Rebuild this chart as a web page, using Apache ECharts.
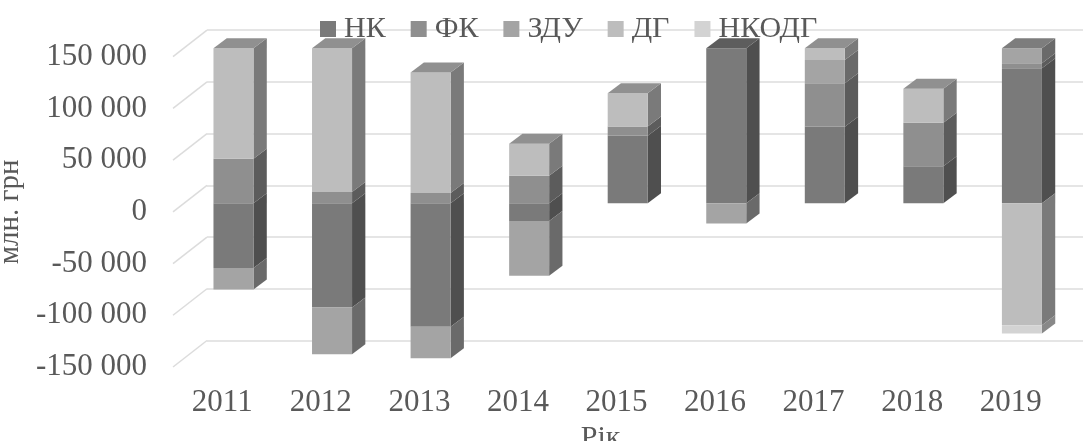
<!DOCTYPE html>
<html>
<head>
<meta charset="utf-8">
<title>chart</title>
<style>
  html, body { margin: 0; padding: 0; background: #fff; }
  #main { width: 1083px; height: 441px; }
</style>
</head>
<body>
<div id="main"></div>
<script src="https://cdn.jsdelivr.net/npm/echarts@6/dist/echarts.min.js"></script>
<script>
const years = ['2011', '2012', '2013', '2014', '2015', '2016', '2017', '2018', '2019'];
const nk = [-62600, -100600, -119400, -17000, 65400, 150000, 74000, 35800, 130600];
const fk = [43000, 11000, 10000, 26700, 9000, 0, 42000, 42200, 4800];
const zdu = [-20600, -45200, -30300, -53000, 0, -19400, 22600, 0, 14500];
const dg = [107000, 139000, 116400, 31000, 32000, 0, 11400, 32700, -117800];
const nkodg = [0, 0, 0, 0, 0, 0, 0, 0, -8000];
const seriesNames = ['НК', 'ФК', 'ЗДУ', 'ДГ', 'НКОДГ'];
const seriesValues = [nk, fk, zdu, dg, nkodg];
const seriesColors = ['#7a7a7a', '#8f8f8f', '#a4a4a4', '#bdbdbd', '#d3d3d3'];
const valueTicks = [-150000, -100000, -50000, 0, 50000, 100000, 150000];

const textColor = '#595959';
const gridColor = '#dcdcdc';
const font = 'Liberation Serif';

// "depth" of the fake 3d box, px
const wallDx = 34, wallDy = -26.5;
const barShiftX = 11.2, barShiftY = -8.5;
const barDx = 13.3, barDy = -10;

function shade(hex, k) {
  const v = Math.round(parseInt(hex.slice(1, 3), 16) * k);
  return `rgb(${v},${v},${v})`;
}

// stack positives up and negatives down, like a stacked column
function stackedData() {
  const pos = years.map(() => 0);
  const neg = years.map(() => 0);
  const top = years.map((y, i) => {
    let last = -1;
    seriesValues.forEach((vals, s) => { if (vals[i] > 0) last = s; });
    return last;
  });
  return seriesValues.map((vals, s) => {
    const out = [];
    vals.forEach((v, i) => {
      if (!v) return;
      if (v > 0) {
        out.push([i, pos[i], pos[i] + v, top[i] === s ? 1 : 0]);
        pos[i] += v;
      } else {
        out.push([i, neg[i], neg[i] + v, 0]);
        neg[i] += v;
      }
    });
    return out;
  });
}

function renderBox(color) {
  return function (params, api) {
    const a = api.coord([api.value(0), api.value(1)]);
    const b = api.coord([api.value(0), api.value(2)]);
    const w = api.size([1, 0])[0] * 0.406;
    const x0 = a[0] + barShiftX - w / 2;
    const x1 = x0 + w;
    const y0 = Math.min(a[1], b[1]) + barShiftY;
    const y1 = Math.max(a[1], b[1]) + barShiftY;
    const poly = (points, fill) => ({ type: 'polygon', shape: { points }, style: { fill }, silent: true });
    const children = [
      poly([[x1, y0], [x1 + barDx, y0 + barDy], [x1 + barDx, y1 + barDy], [x1, y1]], shade(color, 0.645)),
      poly([[x0, y0], [x1, y0], [x1, y1], [x0, y1]], color)
    ];
    if (api.value(3)) {
      children.push(poly([[x0, y0], [x0 + barDx, y0 + barDy], [x1 + barDx, y0 + barDy], [x1, y0]], shade(color, 0.76)));
    }
    return { type: 'group', children };
  };
}

function renderWallLine(params, api) {
  const x = params.coordSys.x;
  const y = api.coord([0, api.value(1)])[1];
  return {
    type: 'line',
    shape: { x1: x, y1: y, x2: x + wallDx, y2: y + wallDy },
    style: { stroke: gridColor, lineWidth: 1.5 },
    silent: true
  };
}

const stacks = stackedData();
const myChart = echarts.init(document.getElementById('main'));

myChart.setOption({
  animation: false,
  backgroundColor: '#fff',
  legend: {
    data: seriesNames,
    left: 315,
    top: 9,
    icon: 'rect',
    itemWidth: 16,
    itemHeight: 16,
    itemGap: 25,
    textStyle: { fontFamily: font, fontSize: 30, color: textColor, padding: [0, 0, 0, 3] }
  },
  grid: [
    { left: 173, top: 56.7, width: 887, height: 310.3, outerBoundsMode: 'none' },
    { left: 207, top: 30.2, width: 887, height: 310.3, outerBoundsMode: 'none' }
  ],
  xAxis: [
    {
      type: 'category',
      gridIndex: 0,
      data: years,
      name: 'Рік',
      nameLocation: 'middle',
      nameGap: 49,
      nameTextStyle: { fontFamily: font, fontSize: 30, color: textColor, padding: [0, 32, 0, 0] },
      axisLine: { show: false },
      axisTick: { show: false },
      axisLabel: { fontFamily: font, fontSize: 31, color: textColor, margin: 20, interval: 0 }
    },
    { type: 'category', gridIndex: 1, data: years, show: false }
  ],
  yAxis: [
    {
      type: 'value',
      gridIndex: 0,
      min: -150000,
      max: 150000,
      interval: 50000,
      name: 'млн. грн',
      nameLocation: 'middle',
      nameGap: 147,
      nameTextStyle: { fontFamily: font, fontSize: 29, color: textColor },
      axisLine: { show: false },
      axisTick: { show: false },
      splitLine: { show: false },
      axisLabel: {
        fontFamily: font,
        fontSize: 31,
        color: textColor,
        margin: 26,
        formatter: v => String(v).replace(/\B(?=(\d{3})+$)/g, ' ')
      }
    },
    {
      type: 'value',
      gridIndex: 1,
      min: -150000,
      max: 150000,
      interval: 50000,
      axisLine: { show: false },
      axisTick: { show: false },
      axisLabel: { show: false },
      splitLine: { show: true, lineStyle: { color: gridColor, width: 1.5 } }
    }
  ],
  series: [
    {
      name: 'wall',
      type: 'custom',
      xAxisIndex: 0,
      yAxisIndex: 0,
      silent: true,
      z: 1,
      renderItem: renderWallLine,
      data: valueTicks.map(v => [0, v])
    }
  ].concat(seriesNames.map((name, s) => ({
    name,
    type: 'custom',
    xAxisIndex: 0,
    yAxisIndex: 0,
    z: 2,
    itemStyle: { color: seriesColors[s] },
    renderItem: renderBox(seriesColors[s]),
    encode: { x: 0, y: [1, 2] },
    data: stacks[s]
  })))
});
</script>
</body>
</html>
